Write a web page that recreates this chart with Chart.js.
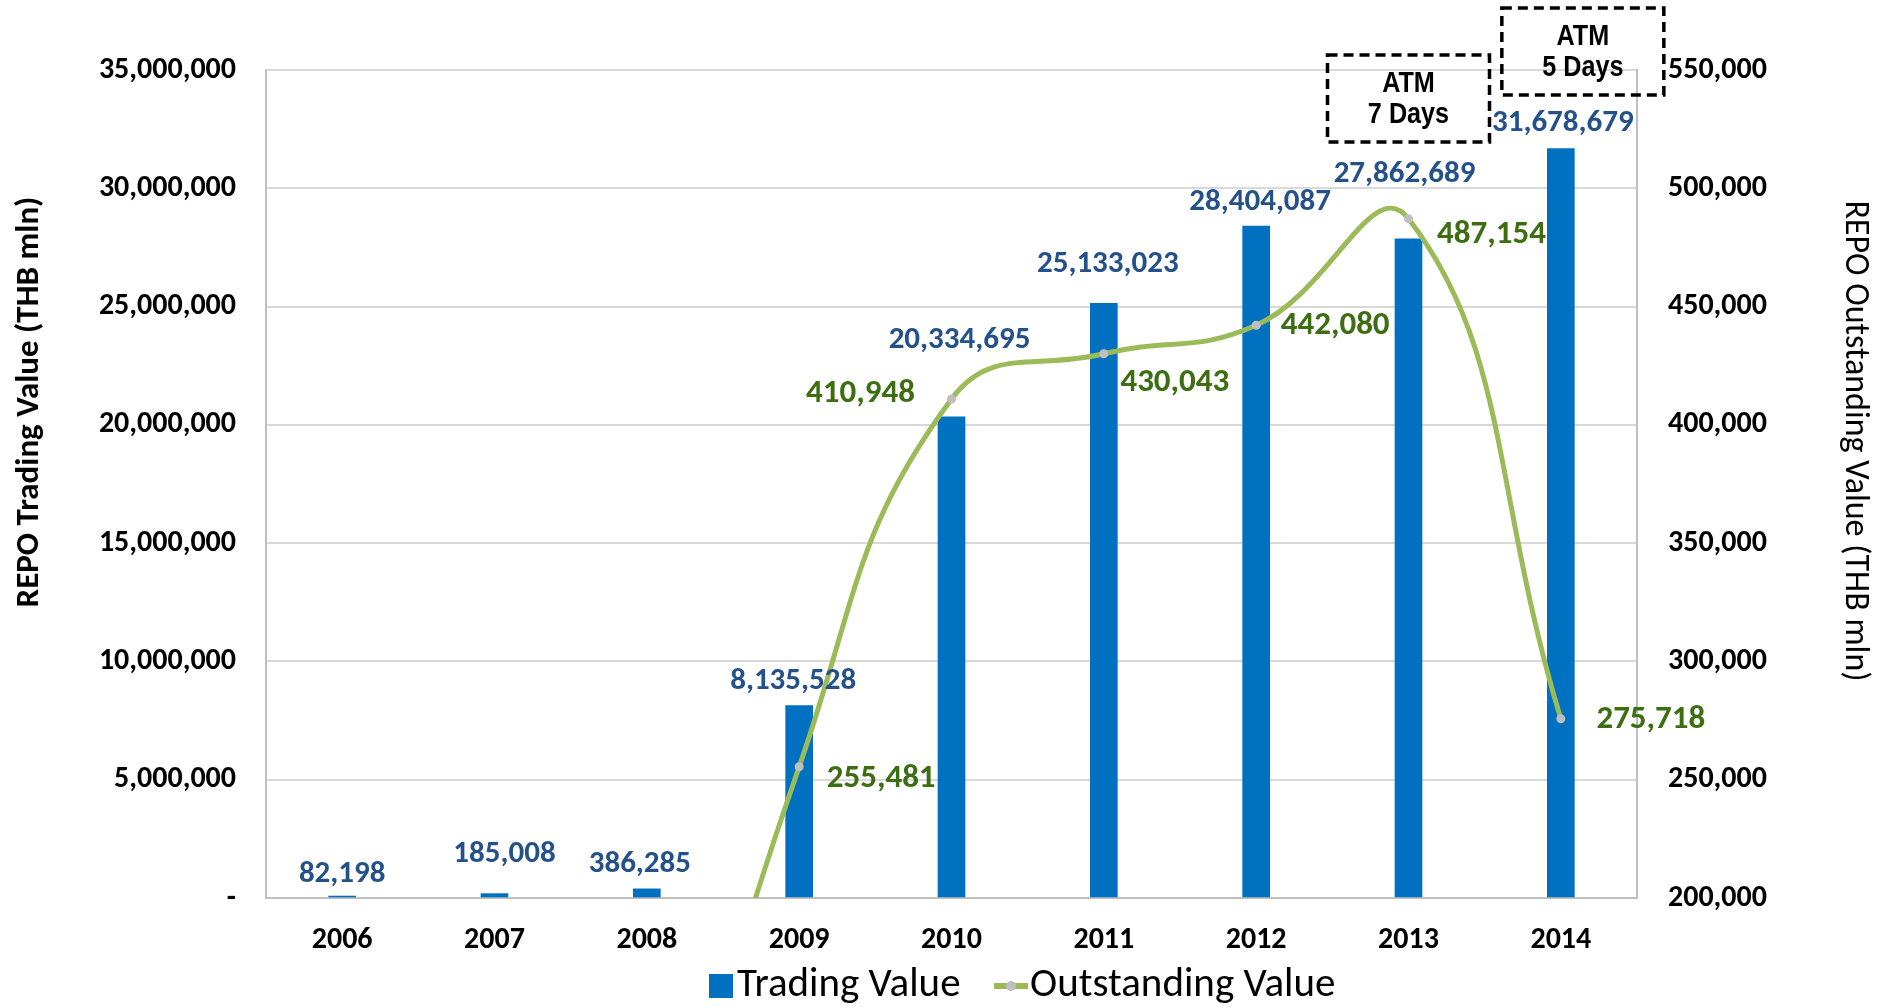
<!DOCTYPE html>
<html>
<head>
<meta charset="utf-8">
<script src="https://cdn.jsdelivr.net/npm/chart.js@4.4.1/dist/chart.umd.min.js"></script>
<style>
  html, body { margin: 0; padding: 0; background: #fff; }
</style>
</head>
<body>
<canvas id="repoChart" width="1881" height="1007"></canvas>
<script>
const years = ["2006", "2007", "2008", "2009", "2010", "2011", "2012", "2013", "2014"];
const tradingValue = [82198, 185008, 386285, 8135528, 20334695, 25133023, 28404087, 27862689, 31678679];
// 2008 sits under the 200,000 floor, only the rising tail shows
const outstandingValue = [null, null, 40000, 255481, 410948, 430043, 442080, 487154, 275718];
const tradingAxis = [0, 35000000, 5000000];
const outstandingAxis = [200000, 550000, 50000];
const atmNotes = [["2013", "ATM", "7 Days"], ["2014", "ATM", "5 Days"]];

// label nudges (px) copied from where Excel left them
const barLabelShift = [[0, -22], [10, -39], [-7, -25], [-6, -24], [8, -77], [4, -39], [4, -24], [-4, -65], [2, -25]];
const lineLabelShift = [null, null, null, [82, 12], [-91, -5], [71, 29], [79, 0], [83, 16], [90, 1]];

const FONT = "Carlito, Calibri, Lato, sans-serif";
Chart.defaults.font.family = FONT;
Chart.defaults.color = "#000";

const BAR_COLOR = "#0070C0";
const LINE_COLOR = "#9BBB59";
const MARKER_COLOR = "#BFBFBF";

const fmt = v => v.toLocaleString("en-US");

const labelsPlugin = {
  id: "repoLabels",
  afterDatasetsDraw(chart) {
    const { ctx } = chart;
    const bars = chart.getDatasetMeta(0).data;
    const pts = chart.getDatasetMeta(1).data;
    ctx.save();
    ctx.textAlign = "center";
    ctx.textBaseline = "middle";
    ctx.font = "bold 31px " + FONT;
    ctx.fillStyle = "#24518A";
    bars.forEach((bar, i) => {
      ctx.fillText(fmt(tradingValue[i]), bar.x + barLabelShift[i][0], bar.y + barLabelShift[i][1]);
    });
    ctx.font = "bold 33px " + FONT;
    ctx.fillStyle = "#3D6E12";
    pts.forEach((pt, i) => {
      const shift = lineLabelShift[i];
      if (outstandingValue[i] == null || !shift) return;
      ctx.fillText(fmt(outstandingValue[i]), pt.x + shift[0], pt.y + shift[1]);
    });

    // ATM boxes
    const xs = chart.scales.x;
    const boxes = [{ dx: 0, top: 55 }, { dx: 22, top: 8 }];
    ctx.strokeStyle = "#000";
    ctx.lineWidth = 3.5;
    ctx.setLineDash([10, 6]);
    atmNotes.forEach((note, i) => {
      const cx = xs.getPixelForValue(years.indexOf(note[0])) + boxes[i].dx;
      const w = 162, h = 87, top = boxes[i].top;
      ctx.strokeRect(cx - w / 2, top, w, h);
      ctx.save();
      ctx.translate(cx, top + h / 2);
      ctx.scale(0.84, 1);
      ctx.font = "bold 30px 'Liberation Sans', Arial, sans-serif";
      ctx.fillStyle = "#000";
      ctx.fillText(note[1], 0, -15);
      ctx.fillText(note[2], 0, 16);
      ctx.restore();
    });
    ctx.restore();
  },
  afterDraw(chart) {
    const { ctx } = chart;
    ctx.save();
    ctx.fillStyle = "#000";
    ctx.textAlign = "center";
    ctx.textBaseline = "middle";
    ctx.font = "bold 33px " + FONT;
    ctx.translate(30, 402);
    ctx.rotate(-Math.PI / 2);
    ctx.fillText("REPO Trading Value (THB mln)", 0, 0);
    ctx.restore();

    ctx.save();
    ctx.fillStyle = "#000";
    ctx.textAlign = "center";
    ctx.textBaseline = "middle";
    ctx.font = "34px " + FONT;
    ctx.translate(1854, 441);
    ctx.rotate(Math.PI / 2);
    ctx.fillText("REPO Outstanding Value (THB mln)", 0, 0);
    ctx.restore();

    // legend, laid out like the Excel one
    const ds = chart.data.datasets;
    const y = 986;
    ctx.save();
    ctx.font = "41px " + FONT;
    ctx.textBaseline = "middle";
    ctx.textAlign = "left";
    ctx.fillStyle = BAR_COLOR;
    ctx.fillRect(709, y - 12, 24, 24);
    ctx.fillStyle = "#000";
    ctx.fillText(ds[0].label, 737, y);
    ctx.strokeStyle = LINE_COLOR;
    ctx.lineWidth = 6;
    ctx.beginPath();
    ctx.moveTo(994, y);
    ctx.lineTo(1028, y);
    ctx.stroke();
    ctx.fillStyle = MARKER_COLOR;
    ctx.beginPath();
    ctx.arc(1011, y, 5, 0, Math.PI * 2);
    ctx.fill();
    ctx.fillStyle = "#000";
    ctx.fillText(ds[1].label, 1030, y);
    ctx.restore();
  }
};

const ctx = document.getElementById("repoChart").getContext("2d");

const repoChart = new Chart(ctx, {
  type: "bar",
  data: {
    labels: years,
    datasets: [
      {
        label: "Trading Value",
        data: tradingValue,
        backgroundColor: BAR_COLOR,
        barThickness: 27,
        yAxisID: "y",
        order: 1
      },
      {
        type: "line",
        label: "Outstanding Value",
        data: outstandingValue,
        yAxisID: "y1",
        borderColor: LINE_COLOR,
        backgroundColor: LINE_COLOR,
        borderWidth: 5,
        tension: 0.45,
        pointRadius: 4.5,
        pointBackgroundColor: MARKER_COLOR,
        pointBorderColor: MARKER_COLOR,
        pointBorderWidth: 0,
        order: 0
      }
    ]
  },
  options: {
    responsive: false,
    animation: false,
    devicePixelRatio: 1,
    elements: { line: { capBezierPoints: false } },
    layout: { padding: { top: 70, left: 0, right: 0, bottom: 0 } },
    plugins: {
      tooltip: { enabled: false },
      legend: { display: false }
    },
    scales: {
      x: {
        grid: { display: false },
        border: { color: "#BFBFBF", width: 2 },
        ticks: { padding: 16, font: { size: 30, weight: "bold" }, color: "#000" },
        afterFit: s => { s.height = 109; }
      },
      y: {
        position: "left",
        min: tradingAxis[0],
        max: tradingAxis[1],
        grid: { color: "#D9D9D9", lineWidth: 2, drawTicks: false },
        border: { color: "#BFBFBF", width: 2 },
        ticks: {
          stepSize: tradingAxis[2],
          padding: 30,
          font: { size: 30, weight: "bold" },
          color: "#000",
          callback: v => (v === 0 ? "-" : fmt(v))
        },
        afterFit: s => { s.width = 266; }
      },
      y1: {
        position: "right",
        min: outstandingAxis[0],
        max: outstandingAxis[1],
        grid: { drawOnChartArea: false, drawTicks: false },
        border: { color: "#BFBFBF", width: 2 },
        ticks: {
          stepSize: outstandingAxis[2],
          padding: 31,
          font: { size: 30, weight: "bold" },
          color: "#000",
          callback: v => fmt(v)
        },
        afterFit: s => { s.width = 244; }
      }
    }
  },
  plugins: [labelsPlugin]
});
</script>
</body>
</html>
